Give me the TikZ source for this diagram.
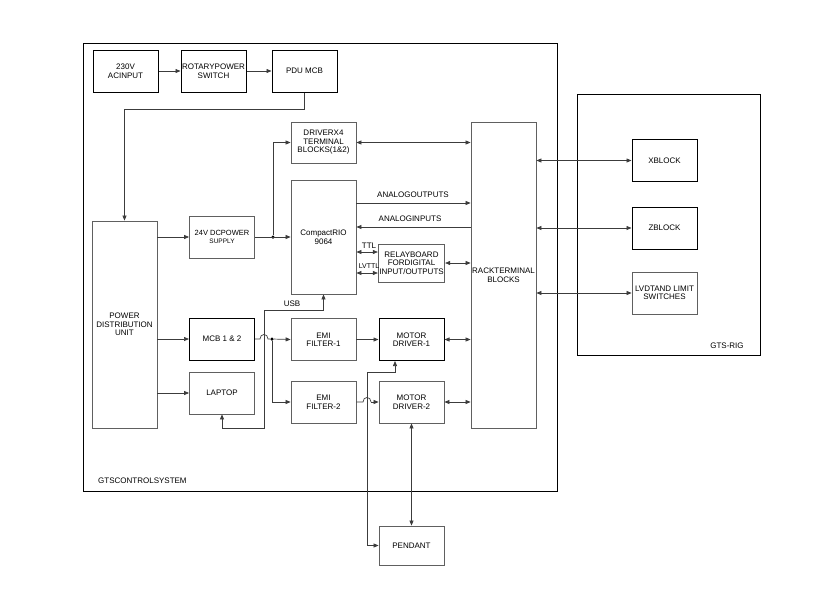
\documentclass[tikz,border=0pt]{standalone}
\usepackage{fontspec}
\setmainfont{Liberation Sans}
\usetikzlibrary{arrows.meta,calc}
\definecolor{boxgray}{HTML}{606060}
\definecolor{wiregray}{HTML}{3C3C3C}
\tikzset{
  block/.style  = {rectangle, draw=boxgray, line width=0.8pt, align=center,
                   minimum width=65pt, minimum height=42pt, inner sep=1pt,
                   font=\fontsize{8}{8.5}\selectfont},
  kblock/.style = {block, draw=black, line width=1pt},
  frame/.style  = {draw=black, line width=1pt},
  arr/.style    = {-{Triangle[length=5pt,width=4pt]}, line width=0.7pt, draw=wiregray},
  darr/.style   = {{Triangle[length=5pt,width=4pt]}-{Triangle[length=5pt,width=4pt]},
                   line width=0.7pt, draw=wiregray},
  wire/.style   = {line width=0.7pt, draw=wiregray},
  lbl/.style    = {font=\fontsize{8}{8.5}\selectfont, inner sep=0pt},
  junc/.style   = {circle, fill=black, inner sep=0pt, minimum size=3.5pt},
}
\begin{document}
\begin{tikzpicture}[x=1pt, y=-1pt]
\useasboundingbox (0,0) rectangle (835,603);

%% enclosures
\draw[frame] (83,43) rectangle (557,491);
\draw[frame] (577,94) rectangle (760,355);
\node[lbl, anchor=west] (ctrllbl) at (98,481) {GTSCONTROLSYSTEM};
\node[lbl] (riglbl) at (727,346) {GTS-RIG};

%% supply chain
\node[kblock] (acin)   at (125.5,71) {230V\\ACINPUT};
\node[kblock] (rotary) at (213.5,71) {ROTARYPOWER\\SWITCH};
\node[kblock] (pdumcb) at (304.5,71) {PDU MCB};
\node[block, minimum height=207pt] (pdu) at (124.5,324.5) {POWER\\DISTRIBUTION\\UNIT};

%% left column
\node[block] (dcps)   at (222,237) {\fontsize{7.5}{7.5}\selectfont 24V DCPOWER\\\fontsize{6.5}{7}\selectfont SUPPLY};
\node[kblock] (mcb)   at (222,339) {MCB 1 \& 2};
\node[block] (laptop) at (222,393) {LAPTOP};

%% controller
\node[block, minimum height=41pt] (drv4) at (323.5,142.5) {DRIVERX4\\TERMINAL\\BLOCKS(1\&2)};
\node[block, minimum height=114pt] (crio) at (323.5,237) {CompactRIO\\9064};
\node[block, minimum height=38pt] (relay) at (411.5,263) {RELAYBOARD\\FORDIGITAL\\INPUT/OUTPUTS};
\node[block, minimum height=306pt] (rack) at (503.5,275) {RACKTERMINAL\\BLOCKS};

%% drives
\node[block]  (emi1) at (323.5,339.5) {EMI\\FILTER-1};
\node[block]  (emi2) at (323.5,402) {EMI\\FILTER-2};
\node[kblock] (md1)  at (411.5,339.5) {MOTOR\\DRIVER-1};
\node[block]  (md2)  at (411.5,402) {MOTOR\\DRIVER-2};
\node[block, minimum height=39pt] (pendant) at (411.5,545.5) {PENDANT};

%% rig
\node[kblock] (xblock) at (664.5,160.5) {XBLOCK};
\node[kblock] (zblock) at (664.5,228) {ZBLOCK};
\node[block]  (lvdt)   at (664.5,293) {LVDTAND LIMIT\\SWITCHES};

%% junctions
\node[junc] (j24) at (273,237) {};
\node[junc] (jmcb) at (272,339) {};

%% power path
\draw[arr] (acin) -- (rotary);
\draw[arr] (rotary) -- (pdumcb);
\draw[arr] (pdumcb.south) |- (124.5,109) -- (pdu.north);
\draw[arr] (pdu.east |- dcps) -- (dcps.west);
\draw[arr] (pdu.east |- mcb) -- (mcb.west);
\draw[arr] (pdu.east |- laptop) -- (laptop.west);

%% 24V feed
\draw[arr] (dcps.east) -- (crio.west);
\draw[arr] (j24) |- (drv4.west);

%% MCB feed with hop over USB
\draw[wire] (mcb.east) -- (260,339) .. controls (260,333) and (268,333) .. (268,339) -- (jmcb);
\draw[arr] (jmcb) -- (emi1.west);
\draw[arr] (jmcb) |- (emi2.west);
\draw[arr] (emi1) -- (md1);
\draw[wire] (emi2.east) -- (363,402) .. controls (363,396) and (371,396) .. (371,402);
\draw[arr] (371,402) -- (md2.west);

%% USB
\draw[darr] (laptop.south) -- (222,428) -| (264,310) -| (crio.south);
\node[lbl] (usb) at (292,304) {USB};

%% controller to rack
\draw[darr] (drv4.east) -- (rack.west |- drv4);
\draw[arr] (crio.east |- 0,203) -- (rack.west |- 0,203);
\node[lbl] (aout) at (413,195) {ANALOGOUTPUTS};
\draw[arr] (rack.west |- 0,227) -- (crio.east |- 0,227);
\node[lbl] (ain) at (410,219) {ANALOGINPUTS};
\draw[darr] (crio.east |- 0,252) -- (relay.west |- 0,252);
\node[lbl] (ttl) at (369,246) {TTL};
\draw[darr] (crio.east |- 0,273) -- (relay.west |- 0,273);
\node[lbl, font=\fontsize{7}{8}\selectfont] (lvttl) at (369,266) {LVTTL};
\draw[darr] (relay.east) -- (rack.west |- relay);
\draw[darr] (md1.east) -- (rack.west |- md1);
\draw[darr] (md2.east) -- (rack.west |- md2);

%% pendant
\draw[darr] ($(md1.south)+(-16.5,0)$) |- (367,372) |- (pendant.west);
\draw[darr] (md2.south) -- (pendant.north);

%% rig links
\draw[darr] (rack.east |- xblock) -- (xblock.west);
\draw[darr] (rack.east |- zblock) -- (zblock.west);
\draw[darr] (rack.east |- lvdt) -- (lvdt.west);

\end{tikzpicture}
\end{document}
